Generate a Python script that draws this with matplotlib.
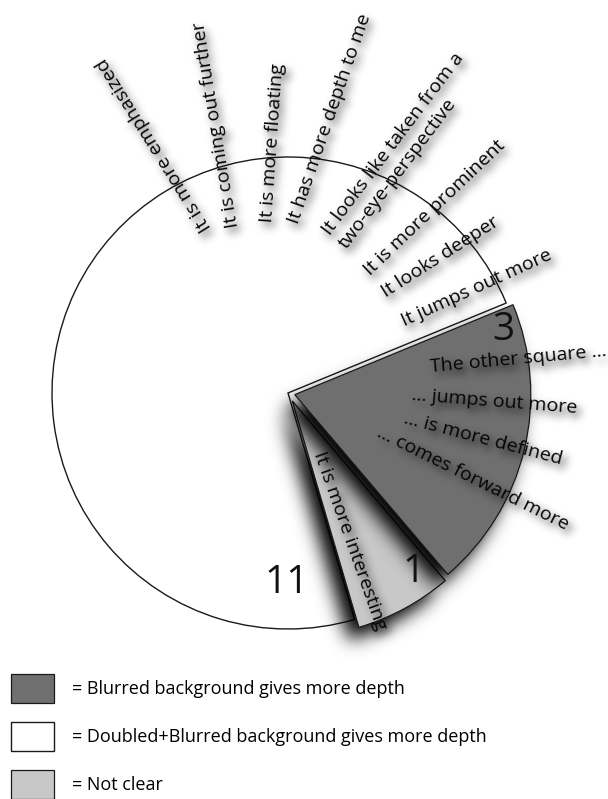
import numpy as np
import matplotlib
matplotlib.use("Agg")
import matplotlib.pyplot as plt

# ---------------- data ----------------
categories = ["Blurred background gives more depth",
              "Doubled+Blurred background gives more depth",
              "Not clear"]
counts = [3, 11, 1]
colors = ["#6f6f6f", "#ffffff", "#c8c8c8"]

white_reasons = ["It is more emphasized", "It is coming out further",
                 "It is more floating", "It has more depth to me",
                 "It looks like taken from a", "two-eye-perspective",
                 "It is more prominent", "It looks deeper", "It jumps out more"]
dark_reasons = ["The other square ...", "... jumps out more",
                "... is more defined", "... comes forward more"]
light_reasons = ["It is more interesting"]

# ---------------- layout (pixel coords, y down) ----------------
W, H = 608, 799
white_pos = [(207, 230, 122), (233, 227, 99.4), (267, 222, 86), (293, 223, 70.9),
             (326, 233, 53), (343, 247, 53), (367, 272, 43.7), (383, 293, 32.6),
             (402, 322, 24.5)]
dark_pos = [(430, 367, 5.2), (412, 395, -4.5), (404, 418, -14.7), (378, 432, -26.4)]
light_pos = [(318, 452, -70.5)]
num_pos = [(503, 330), (287, 583), (414, 572)]

FONT = ["Open Sans", "DejaVu Sans"]
plt.rcParams['font.family'] = FONT


# ---------------- blur helpers ----------------
def _blur(a, sigma):
    r = max(int(3 * sigma), 1)
    xs = np.arange(-r, r + 1)
    k = np.exp(-0.5 * (xs / sigma) ** 2)
    k /= k.sum()
    a = np.apply_along_axis(lambda m: np.convolve(m, k, mode='same'), 0, a)
    a = np.apply_along_axis(lambda m: np.convolve(m, k, mode='same'), 1, a)
    return a


class DropShadow:
    def __init__(self, sigma, alpha=0.6, offsets=(0, 0)):
        self.sigma = sigma
        self.alpha = alpha
        self.offsets = offsets

    def __call__(self, im, dpi):
        s = self.sigma / 72 * dpi
        ox = int(self.offsets[0] / 72 * dpi)
        oy = int(self.offsets[1] / 72 * dpi)
        pad = int(3 * s) + max(abs(ox), abs(oy)) + 2
        src = np.pad(im, [(pad, pad), (pad, pad), (0, 0)], "constant")
        out = np.zeros_like(src)
        a = _blur(src[:, :, 3] * self.alpha, s)
        a = np.roll(a, ox, axis=1)
        a = np.roll(a, -oy, axis=0)
        out[:, :, 3] = np.clip(a, 0, 1)
        return out, -pad, -pad


fig = plt.figure(figsize=(W / 100, H / 100), dpi=100)
ax = fig.add_axes([0, 0, 1, 1])

cx, cy, R = 288, H - 393, 236
wedges, _ = ax.pie(counts, colors=colors, startangle=-49.6, counterclock=True,
                   radius=R, center=(cx, cy), explode=[7, 0, 9],
                   wedgeprops=dict(edgecolor="#1a1a1a", linewidth=0.9))

wedges[1].set_zorder(1)
wedges[1].set_linewidth(1.0)

# soft drop shadows for the two small wedges (raster layers built from wedge geometry)
YY, XX = np.mgrid[0:H, 0:W] + 0.5


def wedge_shadow(w, dx, dy, sigma, alpha):
    px = XX - dx - w.center[0]
    py = YY - dy - w.center[1]
    r = np.hypot(px, py)
    ang = np.degrees(np.arctan2(py, px))
    rel = (ang - w.theta1) % 360
    mask = ((r <= w.r) & (rel <= (w.theta2 - w.theta1))).astype(float)
    a = _blur(mask, sigma) * alpha
    img = np.zeros((H, W, 4))
    img[..., 3] = np.clip(a, 0, 1)
    return img


for i, zbase in ((2, 2.0), (0, 2.6)):
    w = wedges[i]
    w.set_zorder(zbase + 0.3)
    img = wedge_shadow(w, -10, -13, 9, 1.0)
    ax.imshow(img, extent=(0, W, 0, H), origin='lower', zorder=zbase,
              interpolation='bilinear')

ax.set_xlim(0, W)
ax.set_ylim(0, H)
ax.set_aspect('auto')
ax.axis('off')


def stext(x, y, s, rot, size=14, ha='left', va='center'):
    X, Y = x, H - y
    kw = dict(rotation=rot, rotation_mode='anchor', ha=ha, va=va,
              fontsize=size, color='#050505')
    sh = ax.text(X, Y, s, zorder=4, **kw)
    sh.set_agg_filter(DropShadow(3.0, alpha=0.85, offsets=(3, -4)))
    ax.text(X, Y, s, zorder=5, **kw)


for s, (x, y, r) in zip(white_reasons, white_pos):
    stext(x, y, s, r)
for s, (x, y, r) in zip(dark_reasons, dark_pos):
    stext(x, y, s, r)
for s, (x, y, r) in zip(light_reasons, light_pos):
    stext(x, y, s, r)

for n, (x, y) in zip(counts, num_pos):
    ax.text(x, H - y, str(n), ha='center', va='center', fontsize=28,
            color='#111111', zorder=6)

leg = ax.legend(wedges, ["= " + c for c in categories], loc='upper left',
                bbox_to_anchor=(11 / W, 1 - 674 / H), bbox_transform=fig.transFigure,
                frameon=False, fontsize=13, handlelength=2.4, handleheight=2.1,
                labelspacing=1.05, handletextpad=1.0, borderpad=0, borderaxespad=0)

fig.savefig("out.png", dpi=100)
